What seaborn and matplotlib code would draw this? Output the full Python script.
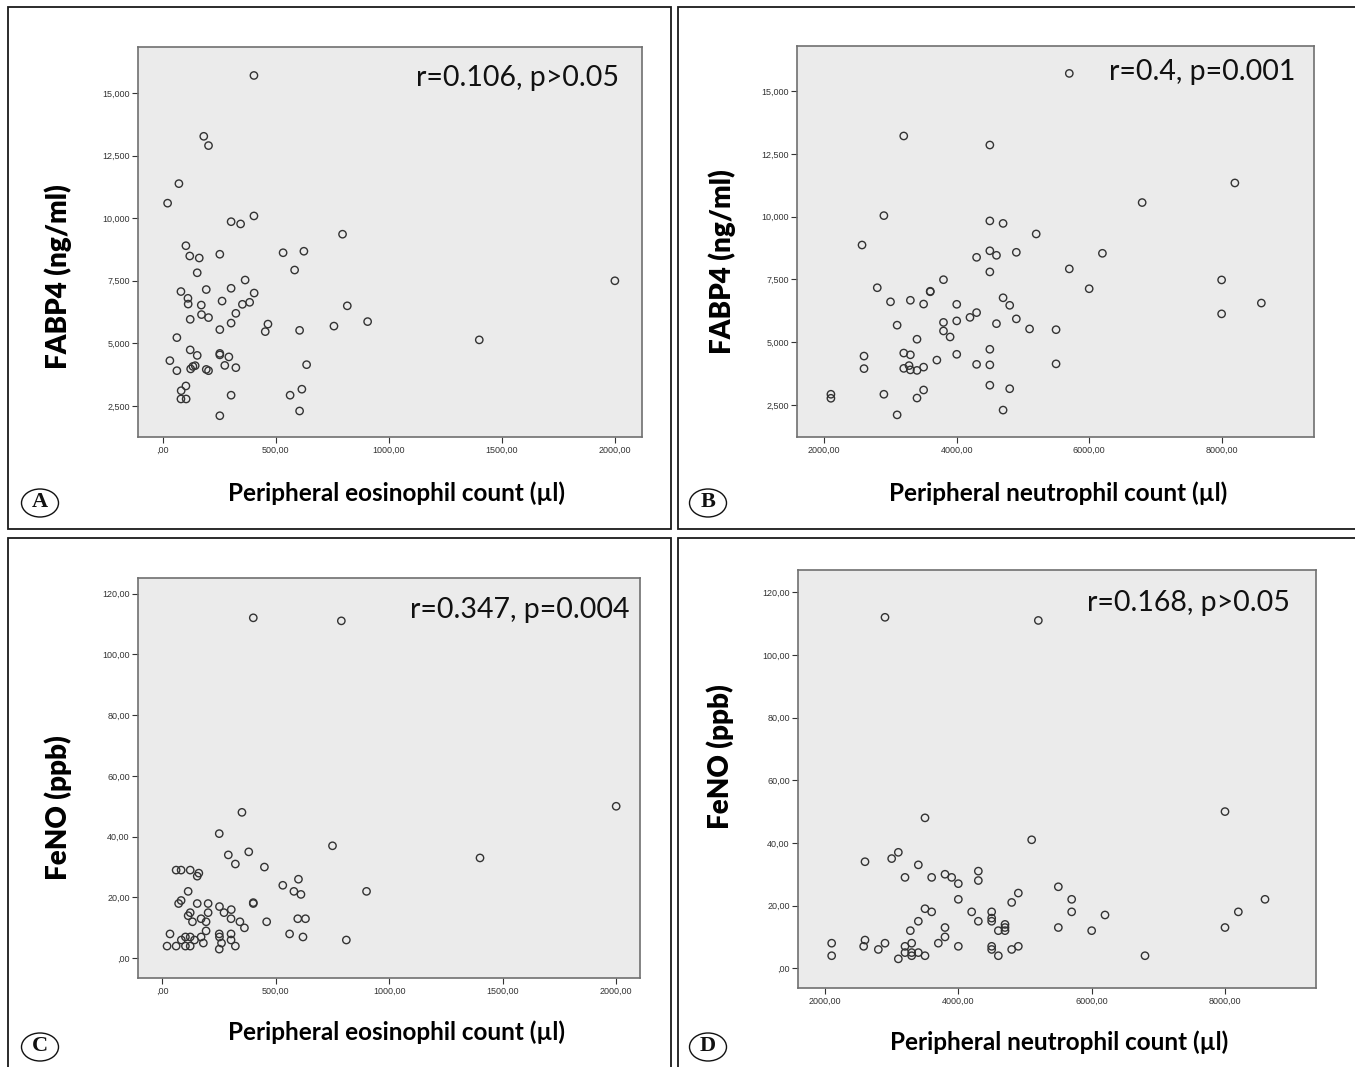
import matplotlib
matplotlib.use("Agg")
import matplotlib.pyplot as plt
from matplotlib.patches import Rectangle, Ellipse
import pandas as pd
import seaborn as sns

# --- datos ---
eos_a = [403, 181, 202, 71, 21, 302, 344, 403, 795, 102, 119, 161, 252, 532, 624, 583, 152, 364,
         80, 192, 302, 404, 111, 112, 170, 262, 352, 384, 816, 323, 171, 202, 121, 302, 465, 453,
         252, 605, 757, 906, 62, 121, 152, 252, 252, 292, 31, 62, 123, 133, 143, 274, 323, 192,
         202, 636, 102, 81, 80, 103, 302, 563, 615, 605, 252, 1400, 2000]
fabp4_a = [15700, 13270, 12900, 11380, 10600, 9860, 9770, 10090, 9360, 8900, 8490, 8410, 8560,
           8620, 8680, 7930, 7820, 7530, 7070, 7150, 7200, 7010, 6800, 6570, 6530, 6690, 6560,
           6640, 6500, 6200, 6150, 6030, 5960, 5810, 5770, 5470, 5550, 5520, 5690, 5870, 5230,
           4740, 4520, 4600, 4540, 4460, 4310, 3910, 3980, 4080, 4110, 4120, 4030, 3960, 3910,
           4150, 3300, 3110, 2780, 2780, 2930, 2930, 3170, 2300, 2110, 5140, 7500]

neu_b = [3200, 4500, 2900, 4500, 4700, 5200, 2570, 4300, 4500, 4600, 4900, 4500, 3800, 2800,
         3600, 3600, 3000, 3300, 3500, 4000, 4700, 4800, 4300, 4200, 4600, 4900, 5100, 5500,
         3100, 3800, 4000, 3800, 3900, 3400, 3200, 3300, 2600, 2600, 3200, 3280, 3300, 3400,
         3500, 3700, 4000, 4300, 4500, 4500, 5500, 4500, 4800, 3500, 3400, 2900, 2100, 2100,
         3100, 4700, 5700, 8200, 6800, 6200, 5700, 6000, 8000, 8000, 8600]
fabp4_b = [13210, 12850, 10040, 9830, 9730, 9310, 8870, 8380, 8640, 8460, 8580, 7800, 7490, 7170,
           7010, 7030, 6610, 6670, 6520, 6510, 6770, 6470, 6180, 5990, 5740, 5930, 5530, 5500,
           5680, 5790, 5850, 5450, 5210, 5120, 4570, 4500, 4450, 3950, 3960, 4070, 3900, 3880,
           4010, 4290, 4520, 4120, 4100, 4720, 4140, 3290, 3150, 3100, 2780, 2930, 2930, 2770,
           2110, 2300, 15700, 11340, 10560, 8540, 7920, 7130, 7480, 6130, 6560]

eos_c = [401, 789, 351, 251, 750, 291, 381, 322, 450, 61, 83, 123, 161, 154, 600, 531, 580, 611,
         900, 114, 83, 72, 154, 202, 401, 401, 123, 114, 202, 252, 272, 304, 133, 171, 193, 303,
         342, 362, 460, 597, 631, 193, 34, 251, 303, 561, 102, 123, 171, 252, 620, 811, 84, 142,
         303, 181, 261, 21, 61, 102, 123, 322, 251, 1400, 2000]
feno_c = [112, 111, 48, 41, 37, 34, 35, 31, 30, 29, 29, 29, 28, 27, 26, 24, 22, 21, 22, 22, 19,
          18, 18, 18, 18, 18.3, 15, 14, 15, 17, 15, 16, 12, 13, 12, 13, 12, 10, 12, 13, 13, 9, 8,
          8, 8, 8, 7, 7, 7, 7, 7, 6, 6, 6, 6, 5, 5, 4, 4, 4, 4, 4, 3, 33, 50]

neu_d = [2900, 5200, 3500, 5100, 3100, 3000, 2600, 3400, 4300, 3200, 3600, 3800, 3900, 4000,
         4300, 4900, 4800, 4000, 3500, 3600, 4200, 4500, 4500, 4500, 4300, 3400, 4700, 4700,
         4700, 4600, 3800, 3800, 3280, 2600, 2580, 2100, 2100, 2800, 2900, 3100, 3200, 3200,
         3300, 3300, 3300, 3400, 3500, 3700, 4000, 4500, 4500, 4600, 4800, 4900, 5500, 5500,
         5700, 5700, 6200, 6000, 6800, 8000, 8000, 8200, 8600]
feno_d = [112, 111, 48, 41, 37, 35, 34, 33, 31, 29, 29, 30, 29, 27, 28, 24, 21, 22, 19, 18, 18,
          18, 16, 15, 15, 15, 14, 13, 12, 12, 13, 10, 12, 9, 7, 8, 4, 6, 8, 3, 7, 5, 8, 5, 4, 5,
          4, 8, 7, 7, 6, 4, 6, 7, 26, 13, 22, 18, 17, 12, 4, 50, 13, 18, 22]

# ticks
eos_ticks = [0, 500, 1000, 1500, 2000]
eos_labels = [",00", "500,00", "1000,00", "1500,00", "2000,00"]
neu_ticks = [2000, 4000, 6000, 8000]
neu_labels = ["2000,00", "4000,00", "6000,00", "8000,00"]
fabp_ticks = [2500, 5000, 7500, 10000, 12500, 15000]
fabp_labels = ["2,500", "5,000", "7,500", "10,000", "12,500", "15,000"]
feno_ticks = [0, 20, 40, 60, 80, 100, 120]
feno_labels = [",00", "20,00", "40,00", "60,00", "80,00", "100,00", "120,00"]

sns.set_style("white")
plt.rcParams['font.family'] = ['Lato', 'DejaVu Sans']

W, H = 1355, 1067
fig = plt.figure(figsize=(W / 100, H / 100), dpi=100)


def fx(x):
    return x / W


def fy(y):
    return 1 - y / H


# marcos exteriores de cada panel
for (x0, y0, x1, y1) in [(8, 7, 671, 529), (678, 7, 1356, 529),
                         (8, 538, 671, 1068), (678, 538, 1356, 1068)]:
    fig.patches.append(Rectangle((fx(x0), fy(y1)), fx(x1 - x0), (y1 - y0) / H,
                                 transform=fig.transFigure, fill=False,
                                 edgecolor="#1a1a1a", linewidth=1.3))

paneles = [
    # (x, y, caja px, xlim, ylim, xticks, yticks, xlabel, ylabel, texto, pos texto, pos ylabel, pos xlabel, letra, pos letra)
    (eos_a, fabp4_a, (138, 47, 642, 437), (-110, 2120), (1261, 16837),
     (eos_ticks, eos_labels), (fabp_ticks, fabp_labels),
     "Peripheral eosinophil count (\u00b5l)", "FABP4 (ng/ml)", "r=0.106, p>0.05",
     (619, 78), (58, 277), (397, 493), "A", (40, 503)),
    (neu_b, fabp4_b, (797, 46, 1314, 437), (1588, 9395), (1229, 16791),
     (neu_ticks, neu_labels), (fabp_ticks, fabp_labels),
     "Peripheral neutrophil count (\u00b5l)", "FABP4 (ng/ml)", "r=0.4, p=0.001",
     (1295, 72), (722, 262), (1058, 493), "B", (708, 503)),
    (eos_c, feno_c, (138, 578, 640, 978), (-107, 2105), (-6.5, 125.1),
     (eos_ticks, eos_labels), (feno_ticks, feno_labels),
     "Peripheral eosinophil count (\u00b5l)", "FeNO (ppb)", "r=0.347, p=0.004",
     (629, 610), (58, 808), (397, 1032), "C", (40, 1047)),
    (neu_d, feno_d, (798, 570, 1316, 988), (1595, 9365), (-6.3, 127.1),
     (neu_ticks, neu_labels), (feno_ticks, feno_labels),
     "Peripheral neutrophil count (\u00b5l)", "FeNO (ppb)", "r=0.168, p>0.05",
     (1290, 603), (720, 757), (1059, 1042), "D", (708, 1047)),
]

for (xs, ys, box, xlim, ylim, xt, yt, xlab, ylab, rtext, rpos, ylpos, xlpos, letra, lpos) in paneles:
    l, t, r, b = box
    ax = fig.add_axes([fx(l), fy(b), (r - l) / W, (b - t) / H])
    df = pd.DataFrame({"x": xs, "y": ys})
    sns.scatterplot(data=df, x="x", y="y", ax=ax, s=28, marker="o",
                    facecolor="none", edgecolor="#333333", linewidth=1.0)
    ax.set_facecolor("#ebebeb")
    ax.set_xlim(*xlim)
    ax.set_ylim(*ylim)
    ax.set_xticks(xt[0], xt[1])
    ax.set_yticks(yt[0], yt[1])
    ax.set_xlabel("")
    ax.set_ylabel("")
    ax.tick_params(axis="both", direction="out", length=4, width=0.8, color="#333333",
                   labelsize=6.5, labelcolor="#333333", pad=2, bottom=True, left=True)
    for lab in ax.get_xticklabels() + ax.get_yticklabels():
        lab.set_family(["Liberation Sans Narrow", "Liberation Sans", "DejaVu Sans"])
    for sp in ax.spines.values():
        sp.set_color("#707070")
        sp.set_linewidth(1.2)

    fig.text(fx(rpos[0]), fy(rpos[1]), rtext, ha="right", va="center",
             fontsize=20.5, color="#111111")
    fig.text(fx(ylpos[0]), fy(ylpos[1]), ylab, ha="center", va="center",
             rotation=90, fontsize=20, fontweight="heavy", color="#000000")
    fig.text(fx(xlpos[0]), fy(xlpos[1]), xlab, ha="center", va="center",
             fontsize=17.5, fontweight="bold", color="#000000")
    fig.patches.append(Ellipse((fx(lpos[0]), fy(lpos[1])), 37 / W, 28 / H,
                               transform=fig.transFigure, fill=False,
                               edgecolor="#111111", linewidth=1.0))
    fig.text(fx(lpos[0]), fy(lpos[1] - 1), letra, ha="center", va="center",
             fontsize=16, fontweight="bold", family="Liberation Serif", color="#111111")

fig.savefig("out.png", dpi=100)
